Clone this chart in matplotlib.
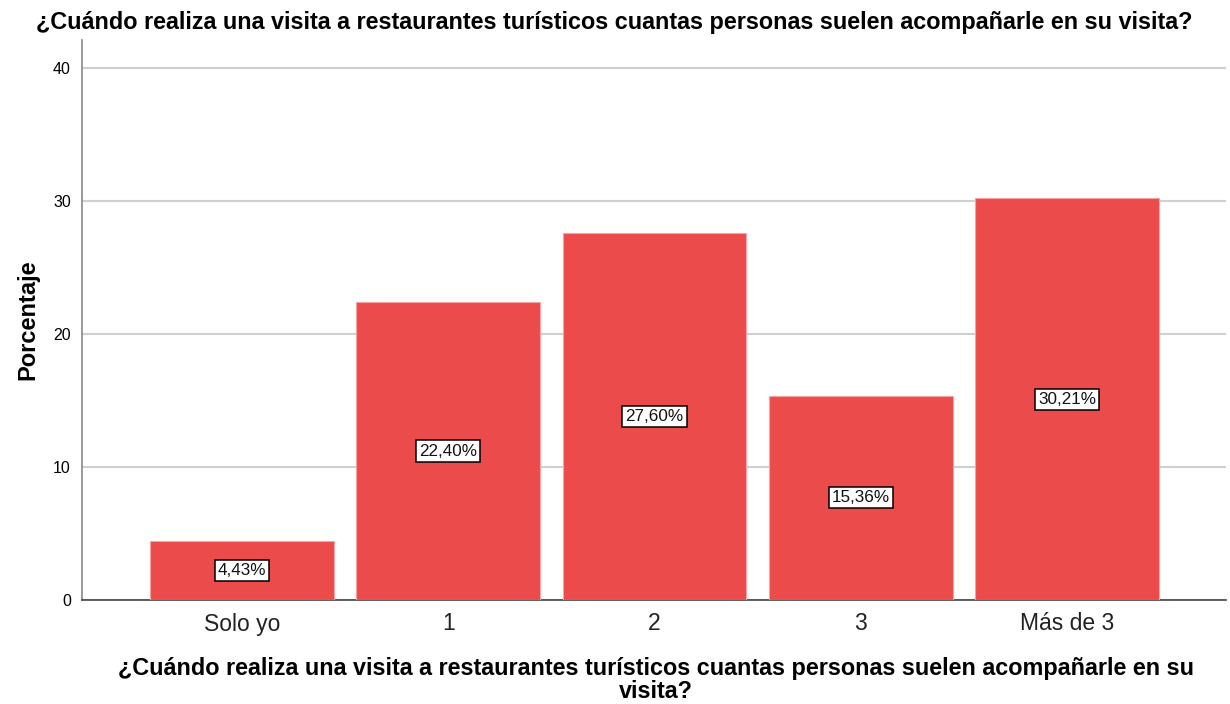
import matplotlib
matplotlib.use("Agg")
import matplotlib.pyplot as plt

plt.rcParams['font.family'] = ['Liberation Sans', 'DejaVu Sans']

categories = ["Solo yo", "1", "2", "3", "Más de 3"]
values = [4.43, 22.40, 27.60, 15.36, 30.21]
labels = ["4,43%", "22,40%", "27,60%", "15,36%", "30,21%"]
yticks = [0, 10, 20, 30, 40]
title = "¿Cuándo realiza una visita a restaurantes turísticos cuantas personas suelen acompañarle en su visita?"
xlabel = "¿Cuándo realiza una visita a restaurantes turísticos cuantas personas suelen acompañarle en su\nvisita?"

fig = plt.figure(figsize=(12.3, 7.04), dpi=100)
ax = fig.add_axes([82/1230, 104/704, (1226-82)/1230, (600-40)/704])

x = list(range(len(categories)))
ax.bar(x, values, width=0.89, color="#ec4b4b", edgecolor="#f7a3a3", linewidth=0.8, zorder=3)
for xi, v, lab in zip(x, values, labels):
    ax.text(xi, v/2, lab, ha="center", va="center", fontsize=12.3, zorder=4, color="#111111",
            bbox=dict(boxstyle="square,pad=0.18", facecolor="white", edgecolor="black", linewidth=1.1))

ax.set_xlim(-0.775, 4.77)
ax.set_ylim(0, 42.1)
ax.set_yticks(yticks)
ax.set_xticks(x)
ax.set_xticklabels(categories, fontsize=16.5, color="#222222")
ax.tick_params(axis="y", length=0, labelsize=11.5, pad=8)
ax.tick_params(axis="x", length=0, pad=9)
ax.yaxis.grid(True, color="#d0d0d0", linewidth=1.5, zorder=0)
ax.set_axisbelow(True)
for s in ["top", "right"]:
    ax.spines[s].set_visible(False)
ax.spines["left"].set_color("#888888")
ax.spines["left"].set_linewidth(1.2)
ax.spines["bottom"].set_color("#444444")
ax.spines["bottom"].set_linewidth(1.2)

ax.set_ylabel("Porcentaje", fontsize=17, fontweight="bold", labelpad=10)
fig.text(656/1230, 1 - 680/704, xlabel, ha="center", va="center", fontsize=16.8, fontweight="bold", linespacing=1.0)
fig.text(614/1230, 1 - 22/704, title, ha="center", va="center", fontsize=16.8, fontweight="bold")

fig.savefig("out.png", dpi=100)
